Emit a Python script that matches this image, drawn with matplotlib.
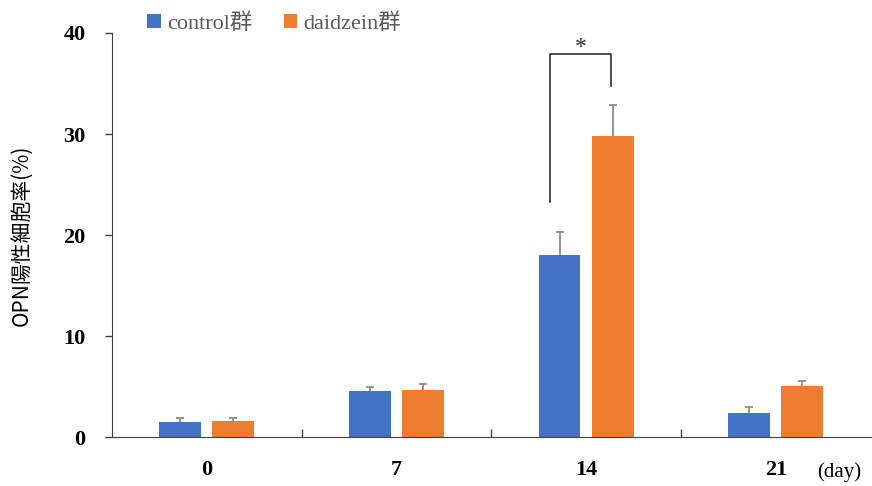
import matplotlib.pyplot as plt
import numpy as np

plt.rcParams['font.family'] = ['Liberation Serif', 'Noto Sans CJK JP']

days = ['0', '7', '14', '21']
control = [1.5, 4.55, 18.0, 2.4]
control_err = [0.35, 0.45, 2.3, 0.6]
daidzein = [1.6, 4.7, 29.8, 5.05]
daidzein_err = [0.25, 0.5, 3.1, 0.45]

fig = plt.figure(figsize=(8.72, 4.86), dpi=100)
ax = fig.add_axes([0.1284, 0.1008, 0.87, 0.8313])

x = np.arange(len(days))
width = 0.22
offsets = [-0.14, 0.14]
colors = ['#4472C4', '#ED7D31']
labels = ['control群', 'daidzein群']
for off, vals, errs, c, lab in zip(offsets, [control, daidzein], [control_err, daidzein_err],
                                   colors, labels):
    vals = np.array(vals)
    errs = np.array(errs)
    ax.bar(x + off, vals, width, color=c, label=lab, zorder=2)
    # upper-only error bars with a small cap
    ax.vlines(x + off, vals, vals + errs, color='#8c8c8c', lw=1.3, zorder=1)
    ax.plot(x + off, vals + errs, ls='none', marker='_', ms=6, mew=1.3, color='#8c8c8c', zorder=1)

ax.set_xlim(-0.5, 3.5)
ax.set_ylim(0, 40)
ax.spines['top'].set_visible(False)
ax.spines['right'].set_visible(False)
ax.spines['left'].set_color('#404040')
ax.spines['bottom'].set_color('#404040')

# y axis
ax.set_yticks([0, 10, 20, 30, 40])
ax.set_yticklabels(['0', '10', '20', '30', '40'], fontsize=16, fontweight='bold')
ax.tick_params(axis='y', direction='out', length=5, width=1, color='#404040', pad=14)
ax.set_ylabel('OPN陽性細胞率(%)', fontsize=15, family=['Noto Sans CJK JP'], labelpad=22)

# x axis: tick marks at group boundaries, labels at group centres
ax.set_xticks(x[:-1] + 0.5)
ax.set_xticklabels([])
ax.tick_params(axis='x', direction='in', length=6, width=1, color='#404040')
for xi, d in zip(x, days):
    ax.text(xi, -2.3, d, ha='center', va='top', fontsize=16, fontweight='bold')
ax.text(3.22, -2.5, '(day)', ha='left', va='top', fontsize=15)

# significance bracket between the day-14 bars
bx0, bx1 = 2 - 0.19, 2 + 0.13
ax.plot([bx0, bx0, bx1, bx1], [23.3, 37.9, 37.9, 34.8], color='#303030', lw=1.2)
ax.text((bx0 + bx1) / 2, 37.5, '*', ha='center', va='bottom', fontsize=17, color='#303030')

leg = ax.legend(loc='lower left', bbox_to_anchor=(0.035, 0.975), ncol=2, frameon=False,
                fontsize=16, handlelength=0.6, handleheight=0.6, handletextpad=0.3,
                columnspacing=1.4, borderaxespad=0)
for t in leg.get_texts():
    t.set_color('#595959')

fig.savefig('out.png', dpi=100)
